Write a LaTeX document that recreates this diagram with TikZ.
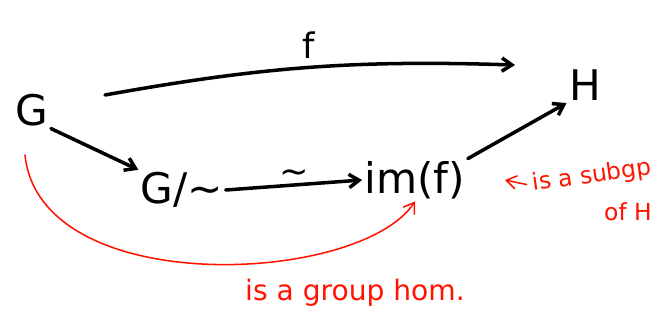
\documentclass[tikz,border=0pt]{standalone}
\usepackage{fontspec}
\setmainfont{DejaVu Sans}
\usetikzlibrary{arrows.meta, positioning}

\begin{document}
\begin{tikzpicture}[x=0.03cm,y=-0.03cm,>={Straight Barb[length=3mm,width=4mm]},
  obj/.style={inner sep=2pt,font=\fontsize{36}{40}\selectfont},
  maparrow/.style={->,line width=3pt,line cap=round},
  remark/.style={->,draw=red!85!orange,line width=1.3pt,line cap=round},
  note/.style={text=red!85!orange,inner sep=1pt,font=\fontsize{20}{24}\selectfont},
  maplabel/.style={inner sep=2pt,font=\fontsize{30}{34}\selectfont}]
\useasboundingbox (0,0) rectangle (665,328);
\node[obj] (G) at (32,110) {G};
\node[obj] (H) at (585,85) {H};
\node[obj] (Q) at (182,190) {G/∼};
\node[obj] (im) at (415,180) {im(f)};
\coordinate (ftail) at (105,95);
\coordinate (fhead) at (515,65);
\draw[maparrow] (ftail) to[bend left=6] node[maplabel,above=4pt] {f} (fhead);
\draw[maparrow] (G.south east) -- (Q.north west);
\draw[maparrow] (Q.east) -- node[maplabel,above=-2pt] {∼} (im.west);
\draw[maparrow] (im.north east) -- (H.south west);
% red remarks
\coordinate (curvestart) at (25,155);
\draw[remark] (curvestart) .. controls (40,300) and (360,285) .. (im.south);
\node[note,font=\fontsize{24}{28}\selectfont] (hom) at (355,293) {is a group hom.};
\node[note,rotate=8] (sub) at (592,176) {is a subgp};
\node[note] (ofH) at (628,212) {of H};
\coordinate (subhead) at (505,180);
\draw[remark] ([xshift=-4pt]sub.west) -- (subhead);
\end{tikzpicture}
\end{document}
